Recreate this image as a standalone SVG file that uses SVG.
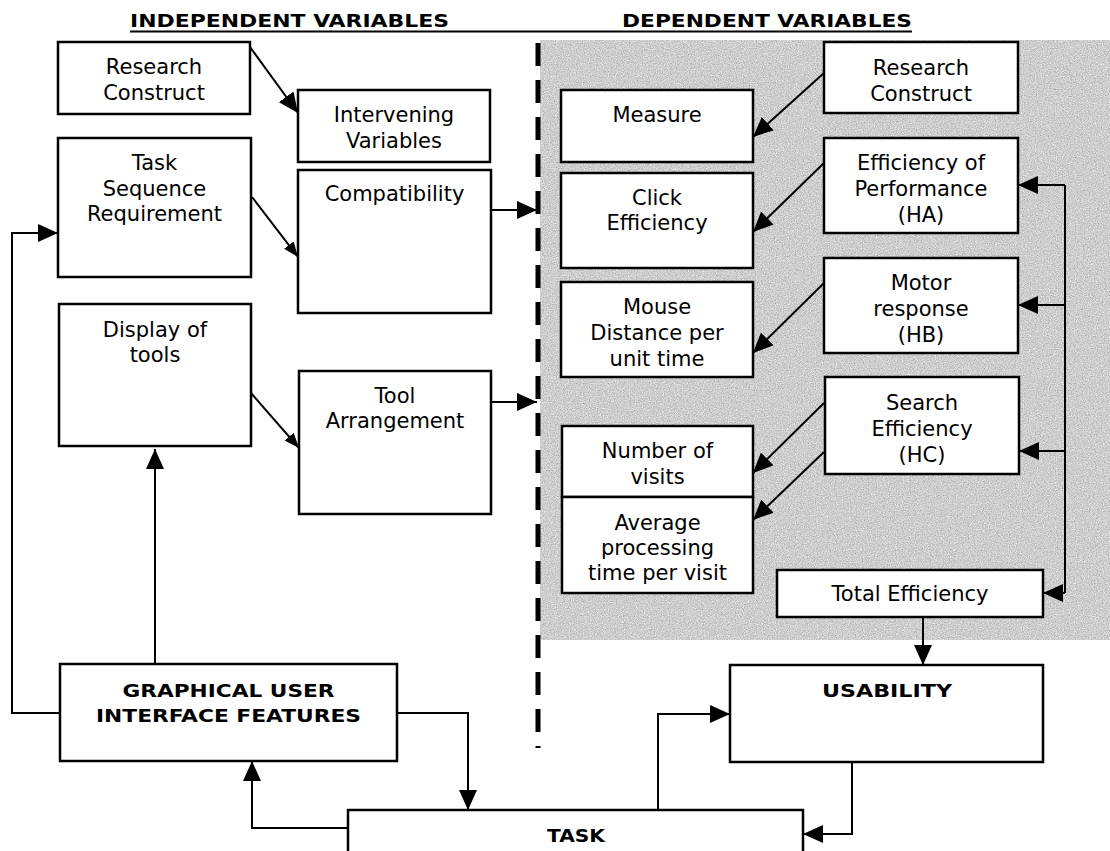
<svg xmlns="http://www.w3.org/2000/svg" width="1110" height="851" viewBox="0 0 1110 851">
  <style>
    .box { fill: #ffffff; stroke: #000000; stroke-width: 2.5; }
    .t { font-family: "DejaVu Sans", Verdana, sans-serif; font-size: 21px; text-anchor: middle; fill: #000000; }
    .b { font-family: "DejaVu Sans", Verdana, sans-serif; font-size: 18px; font-weight: bold; text-anchor: middle; fill: #000000; }
    .hd { font-family: "DejaVu Sans", Verdana, sans-serif; font-size: 18px; font-weight: bold; fill: #000000; }
    .ln { fill: none; stroke: #000000; stroke-width: 2; }
    .arr { marker-end: url(#ah); }
    .arrs { marker-end: url(#ahs); }
  </style>
  <defs>
    <marker id="ah" markerUnits="userSpaceOnUse" viewBox="0 0 20 18" markerWidth="20" markerHeight="18" refX="20" refY="9" orient="auto">
      <path d="M0,0 L20,9 L0,18 z" fill="#000000"/>
    </marker>
    <marker id="ahs" markerUnits="userSpaceOnUse" viewBox="0 0 15 12" markerWidth="15" markerHeight="12" refX="15" refY="6" orient="auto">
      <path d="M0,0 L15,6 L0,12 z" fill="#000000"/>
    </marker>
    <filter id="grain" x="0" y="0" width="100%" height="100%" color-interpolation-filters="sRGB">
      <feTurbulence type="fractalNoise" baseFrequency="0.85" numOctaves="3" seed="7" result="n"/>
      <feColorMatrix in="n" type="matrix" values="0.33 0.33 0.33 0 0  0.33 0.33 0.33 0 0  0.33 0.33 0.33 0 0  0 0 0 0 1" result="g"/>
      <feComponentTransfer in="g" result="c">
        <feFuncR type="linear" slope="0.7" intercept="0.46"/>
        <feFuncG type="linear" slope="0.7" intercept="0.46"/>
        <feFuncB type="linear" slope="0.7" intercept="0.46"/>
      </feComponentTransfer>
      <feComposite in="c" in2="SourceGraphic" operator="in"/>
    </filter>
  </defs>

  <rect x="0" y="0" width="1110" height="851" fill="#ffffff"/>

  <!-- shaded panel behind the dependent variables -->
  <rect x="540" y="40" width="570" height="600" fill="#d0d0d0" filter="url(#grain)"/>

  <!-- headings -->
  <g id="headings">
    <text class="hd" x="130" y="27" textLength="319" lengthAdjust="spacingAndGlyphs">INDEPENDENT VARIABLES</text>
    <text class="hd" x="622" y="27" textLength="290" lengthAdjust="spacingAndGlyphs">DEPENDENT VARIABLES</text>
    <line x1="130" y1="31.5" x2="912" y2="31.5" stroke="#000000" stroke-width="2"/>
  </g>

  <!-- divider between the two sides -->
  <line id="divider" x1="538" y1="43" x2="538" y2="748" stroke="#000000" stroke-width="5" stroke-dasharray="23 14"/>

  <!-- independent side -->
  <g id="research-construct-iv">
    <rect class="box" x="58" y="42" width="192" height="72"/>
    <text class="t" x="154" y="74">Research</text>
    <text class="t" x="154" y="100">Construct</text>
  </g>
  <g id="intervening-variables">
    <rect class="box" x="298" y="90" width="192" height="72"/>
    <text class="t" x="394" y="122">Intervening</text>
    <text class="t" x="394" y="148">Variables</text>
  </g>
  <g id="task-sequence">
    <rect class="box" x="58" y="138" width="193" height="139"/>
    <text class="t" x="154.5" y="170">Task</text>
    <text class="t" x="154.5" y="196">Sequence</text>
    <text class="t" x="154.5" y="221">Requirement</text>
  </g>
  <g id="compatibility">
    <rect class="box" x="298" y="170" width="193" height="143"/>
    <text class="t" x="394.5" y="201">Compatibility</text>
  </g>
  <g id="display-of-tools">
    <rect class="box" x="59" y="304" width="192" height="142"/>
    <text class="t" x="155" y="337">Display of</text>
    <text class="t" x="155" y="362">tools</text>
  </g>
  <g id="tool-arrangement">
    <rect class="box" x="299" y="371" width="192" height="143"/>
    <text class="t" x="395" y="403">Tool</text>
    <text class="t" x="395" y="428">Arrangement</text>
  </g>

  <!-- dependent side: measures -->
  <g id="measure">
    <rect class="box" x="561" y="90" width="192" height="72"/>
    <text class="t" x="657" y="122">Measure</text>
  </g>
  <g id="click-efficiency">
    <rect class="box" x="561" y="173" width="192" height="95"/>
    <text class="t" x="657" y="205">Click</text>
    <text class="t" x="657" y="230">Efficiency</text>
  </g>
  <g id="mouse-distance">
    <rect class="box" x="561" y="282" width="192" height="95"/>
    <text class="t" x="657" y="314">Mouse</text>
    <text class="t" x="657" y="340">Distance per</text>
    <text class="t" x="657" y="366">unit time</text>
  </g>
  <g id="number-of-visits">
    <rect class="box" x="562" y="426" width="191" height="71"/>
    <text class="t" x="657.5" y="458">Number of</text>
    <text class="t" x="657.5" y="484">visits</text>
  </g>
  <g id="average-processing-time">
    <rect class="box" x="562" y="497" width="191" height="96"/>
    <text class="t" x="657.5" y="530">Average</text>
    <text class="t" x="657.5" y="555">processing</text>
    <text class="t" x="657.5" y="580">time per visit</text>
  </g>

  <!-- dependent side: constructs -->
  <g id="research-construct-dv">
    <rect class="box" x="824" y="42" width="194" height="71"/>
    <text class="t" x="921" y="75">Research</text>
    <text class="t" x="921" y="101">Construct</text>
  </g>
  <g id="efficiency-of-performance">
    <rect class="box" x="824" y="138" width="194" height="95"/>
    <text class="t" x="921" y="170">Efficiency of</text>
    <text class="t" x="921" y="196">Performance</text>
    <text class="t" x="921" y="222">(HA)</text>
  </g>
  <g id="motor-response">
    <rect class="box" x="824" y="258" width="194" height="95"/>
    <text class="t" x="921" y="290">Motor</text>
    <text class="t" x="921" y="316">response</text>
    <text class="t" x="921" y="342">(HB)</text>
  </g>
  <g id="search-efficiency">
    <rect class="box" x="825" y="377" width="194" height="97"/>
    <text class="t" x="922" y="410">Search</text>
    <text class="t" x="922" y="436">Efficiency</text>
    <text class="t" x="922" y="462">(HC)</text>
  </g>
  <g id="total-efficiency">
    <rect class="box" x="777" y="570" width="266" height="47"/>
    <text class="t" x="910" y="601">Total Efficiency</text>
  </g>

  <!-- bottom row -->
  <g id="gui-features">
    <rect class="box" x="60" y="664" width="337" height="97"/>
    <text class="b" x="228.5" y="697" textLength="212" lengthAdjust="spacingAndGlyphs">GRAPHICAL USER</text>
    <text class="b" x="228.5" y="722" textLength="265" lengthAdjust="spacingAndGlyphs">INTERFACE FEATURES</text>
  </g>
  <g id="usability">
    <rect class="box" x="730" y="665" width="313" height="97"/>
    <text class="b" x="887" y="697" textLength="130" lengthAdjust="spacingAndGlyphs">USABILITY</text>
  </g>
  <g id="task">
    <rect class="box" x="348" y="810" width="455" height="60"/>
    <text class="b" x="576" y="842" textLength="58" lengthAdjust="spacingAndGlyphs">TASK</text>
  </g>

  <!-- connectors -->
  <g id="connectors">
    <!-- independent side -->
    <path class="ln arr" d="M250,47 L298,113"/>
    <path class="ln arrs" d="M252,197 L298,257"/>
    <path class="ln arrs" d="M251,393 L299,448"/>
    <path class="ln arr" d="M491,210 H537"/>
    <path class="ln arr" d="M491,402 H537"/>

    <!-- constructs to measures -->
    <path class="ln arr" d="M824,73 L753,137"/>
    <path class="ln arr" d="M824,163 L753,232"/>
    <path class="ln arr" d="M824,283 L753,353"/>
    <path class="ln arr" d="M824,403 L753,473"/>
    <path class="ln arr" d="M824,452 L753,520"/>

    <!-- efficiency bus on the right -->
    <path class="ln" d="M1065,185 V593"/>
    <path class="ln arr" d="M1065,185 H1018"/>
    <path class="ln arr" d="M1065,305 H1018"/>
    <path class="ln arr" d="M1065,451 H1019"/>
    <path class="ln arr" d="M1065,593 H1043"/>

    <!-- total efficiency to usability -->
    <path class="ln arr" d="M923,617 V665"/>

    <!-- GUI features loop -->
    <path class="ln arr" d="M60,713 H12 V233 H58"/>
    <path class="ln arr" d="M155,664 V449"/>
    <path class="ln arr" d="M397,713 H468 V810"/>

    <!-- task and usability loop -->
    <path class="ln arr" d="M348,828 H252 V761"/>
    <path class="ln arr" d="M658,810 V714 H730"/>
    <path class="ln arr" d="M852,762 V834 H803"/>
  </g>
</svg>
